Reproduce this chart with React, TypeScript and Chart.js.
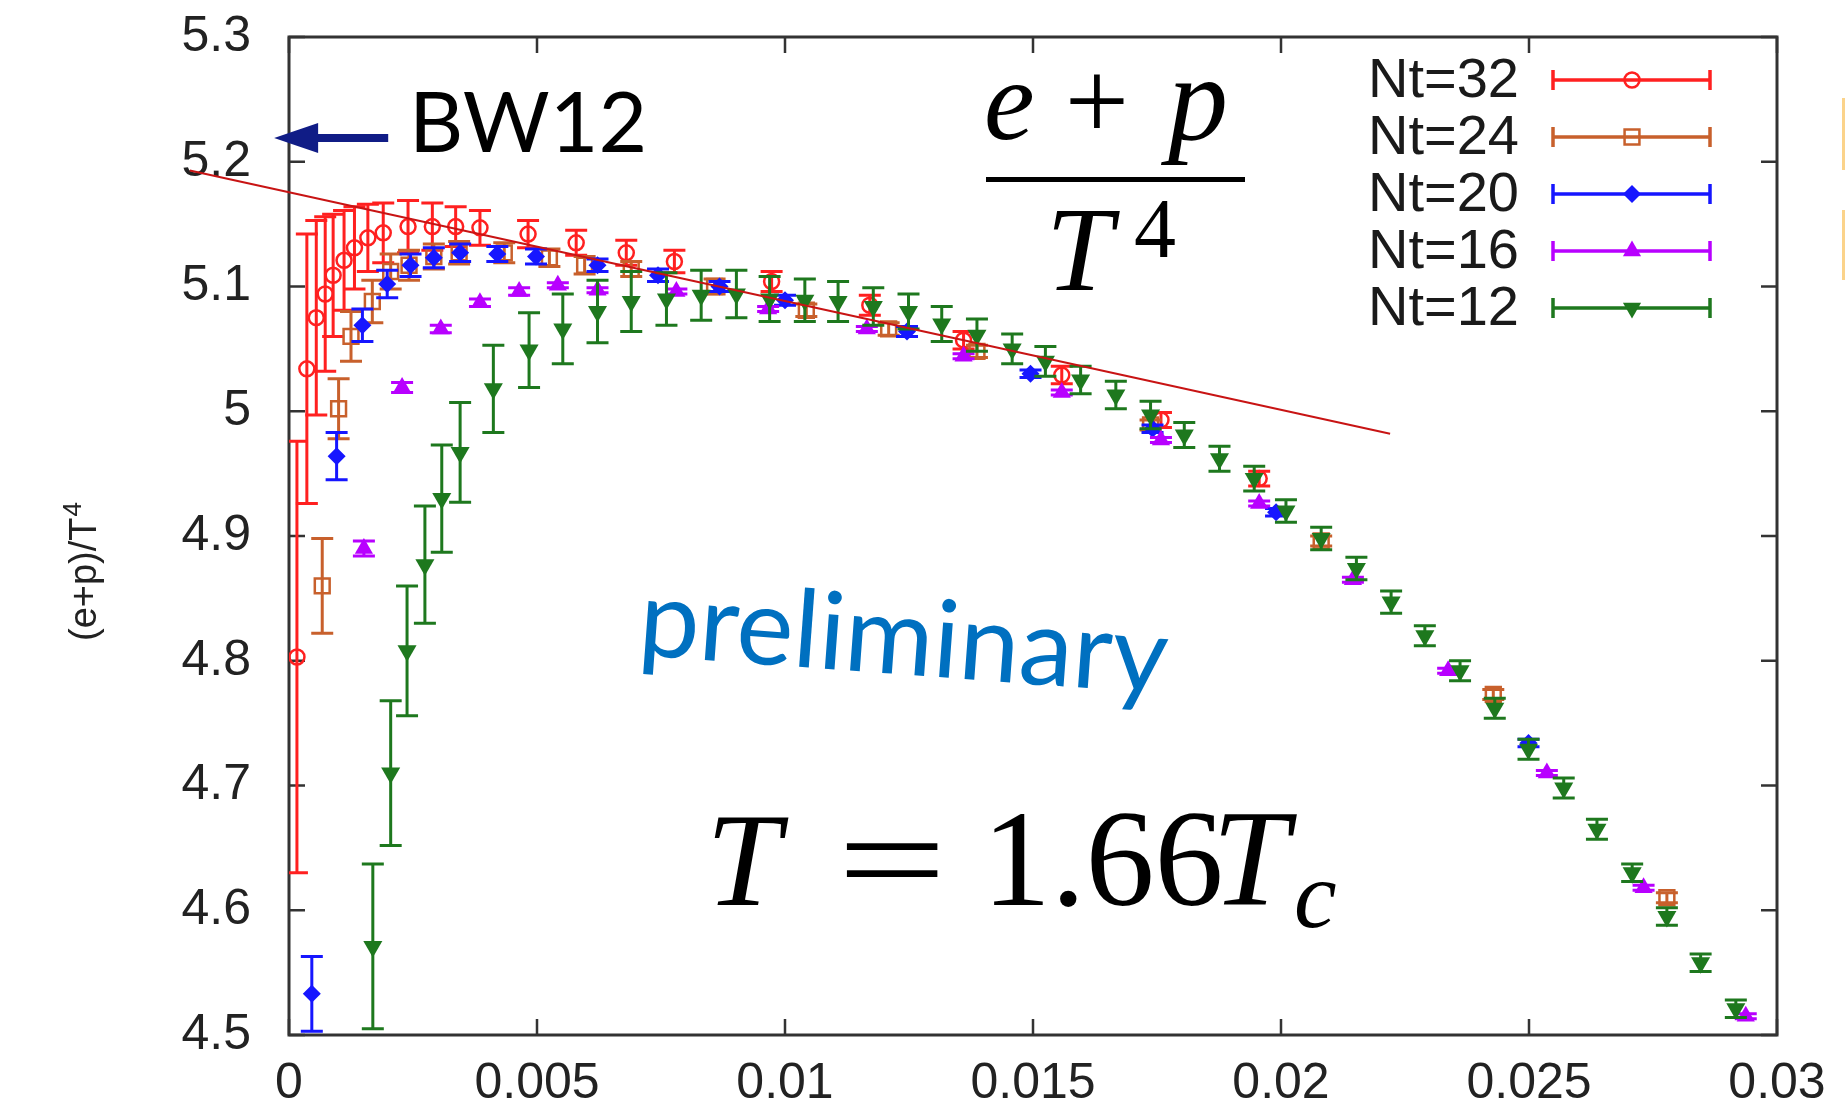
import { useEffect, useRef } from "react";
import { Chart, registerables } from "chart.js";

Chart.register(...registerables);

// Nt = 32
const NT32_X = [0.00016, 0.00036, 0.00055, 0.00073, 0.00089, 0.00111, 0.00132, 0.00159, 0.0019, 0.0024, 0.00289, 0.00336, 0.00385, 0.00482, 0.00579, 0.0068, 0.00777, 0.00973, 0.01171, 0.0136, 0.01558, 0.01758, 0.01956];
const NT32_Y = [4.803, 5.034, 5.075, 5.094, 5.109, 5.121, 5.131, 5.139, 5.143, 5.148, 5.148, 5.148, 5.147, 5.142, 5.135, 5.127, 5.12, 5.104, 5.085, 5.057, 5.029, 4.993, 4.946];
const NT32_ERR = [0.173, 0.108, 0.078, 0.062, 0.049, 0.04, 0.033, 0.027, 0.024, 0.021, 0.019, 0.016, 0.014, 0.011, 0.01, 0.01, 0.009, 0.008, 0.008, 0.007, 0.007, 0.006, 0.006];

// Nt = 24
const NT24_X = [0.00067, 0.001, 0.00125, 0.00168, 0.00205, 0.00242, 0.00292, 0.00343, 0.00434, 0.00525, 0.00596, 0.0069, 0.00858, 0.01043, 0.01209, 0.01387, 0.01737, 0.02081, 0.02428, 0.02778];
const NT24_Y = [4.86, 5.002, 5.06, 5.088, 5.112, 5.117, 5.124, 5.127, 5.127, 5.123, 5.117, 5.114, 5.1, 5.081, 5.066, 5.048, 4.989, 4.896, 4.773, 4.61];
const NT24_ERR = [0.038, 0.024, 0.02, 0.017, 0.014, 0.012, 0.01, 0.009, 0.008, 0.007, 0.007, 0.006, 0.006, 0.005, 0.005, 0.005, 0.004, 0.004, 0.004, 0.004];

// Nt = 20
const NT20_X = [0.00046, 0.00096, 0.00148, 0.00198, 0.00245, 0.00292, 0.00345, 0.0042, 0.00498, 0.00622, 0.00744, 0.00868, 0.01, 0.01246, 0.01495, 0.01741, 0.0199, 0.02499];
const NT20_Y = [4.533, 4.964, 5.069, 5.102, 5.117, 5.123, 5.127, 5.126, 5.124, 5.117, 5.109, 5.1, 5.089, 5.064, 5.03, 4.986, 4.919, 4.734];
const NT20_ERR = [0.03, 0.019, 0.013, 0.011, 0.009, 0.008, 0.007, 0.006, 0.006, 0.005, 0.005, 0.004, 0.004, 0.004, 0.003, 0.003, 0.003, 0.003];

// Nt = 16
const NT16_X = [0.00151, 0.00228, 0.00306, 0.00385, 0.00464, 0.00542, 0.00622, 0.00781, 0.00966, 0.01165, 0.0136, 0.01558, 0.01758, 0.01956, 0.02145, 0.02337, 0.02536, 0.02731, 0.02937];
const NT16_Y = [4.89, 5.019, 5.066, 5.087, 5.096, 5.101, 5.097, 5.096, 5.082, 5.066, 5.044, 5.015, 4.977, 4.926, 4.865, 4.792, 4.71, 4.618, 4.515];
const NT16_ERR = [0.006, 0.004, 0.003, 0.003, 0.003, 0.002, 0.002, 0.002, 0.002, 0.002, 0.002, 0.002, 0.002, 0.002, 0.002, 0.002, 0.002, 0.002, 0.002];

// Nt = 12
const NT12_X = [0.00169, 0.00205, 0.00238, 0.00274, 0.00308, 0.00345, 0.00412, 0.00484, 0.00552, 0.00622, 0.0069, 0.00761, 0.00831, 0.00902, 0.00969, 0.0104, 0.01107, 0.01178, 0.01249, 0.01316, 0.01387, 0.01458, 0.01525, 0.01596, 0.01667, 0.01737, 0.01805, 0.01876, 0.01946, 0.0201, 0.02081, 0.02152, 0.02222, 0.0229, 0.02361, 0.02431, 0.02499, 0.0257, 0.02637, 0.02708, 0.02778, 0.02846, 0.02917];
const NT12_Y = [4.571, 4.71, 4.808, 4.877, 4.93, 4.967, 5.018, 5.049, 5.066, 5.08, 5.088, 5.09, 5.093, 5.094, 5.09, 5.089, 5.088, 5.084, 5.08, 5.07, 5.061, 5.05, 5.04, 5.025, 5.013, 4.997, 4.981, 4.962, 4.946, 4.92, 4.898, 4.874, 4.847, 4.82, 4.792, 4.762, 4.729, 4.698, 4.665, 4.63, 4.595, 4.558, 4.521];
const NT12_ERR = [0.066, 0.058, 0.052, 0.047, 0.043, 0.04, 0.035, 0.03, 0.028, 0.025, 0.024, 0.021, 0.02, 0.019, 0.018, 0.017, 0.016, 0.015, 0.014, 0.014, 0.013, 0.012, 0.012, 0.011, 0.011, 0.011, 0.01, 0.01, 0.01, 0.009, 0.009, 0.009, 0.009, 0.008, 0.008, 0.008, 0.008, 0.008, 0.008, 0.007, 0.007, 0.007, 0.007];

const SERIES_LABELS = ["Nt=32", "Nt=24", "Nt=20", "Nt=16", "Nt=12"];

// straight-line extrapolation drawn across the upper part
const FIT_X = [-0.002, 0.0222];
const FIT_Y = [5.193, 4.982];

// BW12 reference value marked by the arrow
const BW12_VALUE = 5.219;
const BW12_ARROW_X = [-0.0003, 0.002];

const X_TICKS = [0, 0.005, 0.01, 0.015, 0.02, 0.025, 0.03];
const X_TICK_LABELS = ["0", "0.005", "0.01", "0.015", "0.02", "0.025", "0.03"];
const Y_TICKS = [4.5, 4.6, 4.7, 4.8, 4.9, 5.0, 5.1, 5.2, 5.3];
const Y_TICK_LABELS = ["4.5", "4.6", "4.7", "4.8", "4.9", "5", "5.1", "5.2", "5.3"];

const C32 = "#ff2020";
const C24 = "#c8602c";
const C20 = "#1616ff";
const C16 = "#b800ff";
const C12 = "#1e781e";

const toPts = (xs: number[], ys: number[]) => xs.map((x, i) => ({ x, y: ys[i] }));

type MarkerStyle = "circle" | "rect" | "rectRot" | "triangle" | "triangleDown";

function drawMarker(
  ctx: CanvasRenderingContext2D,
  style: MarkerStyle,
  x: number,
  y: number,
  r: number,
  color: string,
  filled: boolean
) {
  ctx.save();
  ctx.beginPath();
  if (style === "circle") {
    ctx.arc(x, y, r, 0, Math.PI * 2);
  } else if (style === "rect") {
    const s = r * Math.SQRT1_2;
    ctx.rect(x - s, y - s, 2 * s, 2 * s);
  } else if (style === "rectRot") {
    ctx.moveTo(x, y - r);
    ctx.lineTo(x + r, y);
    ctx.lineTo(x, y + r);
    ctx.lineTo(x - r, y);
    ctx.closePath();
  } else {
    const dir = style === "triangle" ? 1 : -1;
    for (let k = 0; k < 3; k++) {
      const a = (k * 2 * Math.PI) / 3;
      const px = x + Math.sin(a) * r;
      const py = y - dir * Math.cos(a) * r;
      if (k === 0) ctx.moveTo(px, py);
      else ctx.lineTo(px, py);
    }
    ctx.closePath();
  }
  if (filled) {
    ctx.fillStyle = color;
    ctx.fill();
  } else {
    ctx.strokeStyle = color;
    ctx.lineWidth = 2.5;
    ctx.stroke();
  }
  ctx.restore();
}

const LEGEND_MARKERS: { style: MarkerStyle; r: number; color: string; filled: boolean }[] = [
  { style: "circle", r: 7.5, color: C32, filled: false },
  { style: "rect", r: 10.5, color: C24, filled: false },
  { style: "rectRot", r: 9, color: C20, filled: true },
  { style: "triangle", r: 10.5, color: C16, filled: true },
  { style: "triangleDown", r: 10.5, color: C12, filled: true },
];

// vertical error bars, drawn right before each dataset's markers
const errorBarPlugin = {
  id: "errorBars",
  beforeDatasetDraw(chart: any, args: any) {
    const ds = chart.data.datasets[args.index];
    const errs: number[] | undefined = ds.errors;
    if (!errs) return;
    const ys = chart.scales.y;
    const area = chart.chartArea;
    const ctx: CanvasRenderingContext2D = chart.ctx;
    ctx.save();
    ctx.beginPath();
    ctx.rect(area.left, area.top, area.right - area.left, area.bottom - area.top);
    ctx.clip();
    ctx.strokeStyle = ds.borderColor;
    ctx.lineWidth = 3;
    const cap = 11;
    args.meta.data.forEach((pt: any, i: number) => {
      const v = ds.data[i].y;
      const e = errs[i];
      const top = ys.getPixelForValue(v + e);
      const bot = ys.getPixelForValue(v - e);
      ctx.beginPath();
      ctx.moveTo(pt.x, top);
      ctx.lineTo(pt.x, bot);
      ctx.moveTo(pt.x - cap, top);
      ctx.lineTo(pt.x + cap, top);
      ctx.moveTo(pt.x - cap, bot);
      ctx.lineTo(pt.x + cap, bot);
      ctx.stroke();
    });
    ctx.restore();
  },
};

// plot frame with inward ticks on all four sides
const framePlugin = {
  id: "frame",
  beforeDatasetsDraw(chart: any) {
    const ctx: CanvasRenderingContext2D = chart.ctx;
    const { left, right, top, bottom } = chart.chartArea;
    const xs = chart.scales.x;
    const ys = chart.scales.y;
    ctx.save();
    ctx.strokeStyle = "#333";
    ctx.lineWidth = 3;
    ctx.strokeRect(left, top, right - left, bottom - top);
    ctx.lineWidth = 2.5;
    const tl = 16;
    ctx.beginPath();
    X_TICKS.forEach((v) => {
      const px = xs.getPixelForValue(v);
      ctx.moveTo(px, bottom);
      ctx.lineTo(px, bottom - tl);
      ctx.moveTo(px, top);
      ctx.lineTo(px, top + tl);
    });
    Y_TICKS.forEach((v) => {
      const py = ys.getPixelForValue(v);
      ctx.moveTo(left, py);
      ctx.lineTo(left + tl, py);
      ctx.moveTo(right, py);
      ctx.lineTo(right - tl, py);
    });
    ctx.stroke();
    ctx.restore();
  },
};

// labels, formulas, arrow and key
const overlayPlugin = {
  id: "overlay",
  afterDatasetsDraw(chart: any) {
    const ctx: CanvasRenderingContext2D = chart.ctx;
    const xs = chart.scales.x;
    const ys = chart.scales.y;
    ctx.save();

    // y-axis title
    ctx.save();
    ctx.translate(96, 572);
    ctx.rotate(-Math.PI / 2);
    ctx.fillStyle = "#222";
    ctx.textBaseline = "alphabetic";
    ctx.textAlign = "left";
    ctx.font = "38px 'Liberation Sans', Arial, sans-serif";
    const main = "(e+p)/T";
    const wMain = ctx.measureText(main).width;
    ctx.font = "26px 'Liberation Sans', Arial, sans-serif";
    const wSup = ctx.measureText("4").width;
    const start = -(wMain + wSup) / 2;
    ctx.font = "38px 'Liberation Sans', Arial, sans-serif";
    ctx.fillText(main, start, 0);
    ctx.font = "26px 'Liberation Sans', Arial, sans-serif";
    ctx.fillText("4", start + wMain + 1, -15);
    ctx.restore();

    // BW12 arrow
    const ay = ys.getPixelForValue(BW12_VALUE);
    const tipX = xs.getPixelForValue(BW12_ARROW_X[0]);
    const tailX = xs.getPixelForValue(BW12_ARROW_X[1]);
    ctx.fillStyle = "#101c86";
    ctx.strokeStyle = "#101c86";
    ctx.lineWidth = 8;
    ctx.beginPath();
    ctx.moveTo(tailX, ay);
    ctx.lineTo(tipX + 38, ay);
    ctx.stroke();
    ctx.beginPath();
    ctx.moveTo(tipX, ay);
    ctx.lineTo(tipX + 44, ay - 15);
    ctx.lineTo(tipX + 44, ay + 15);
    ctx.closePath();
    ctx.fill();

    ctx.fillStyle = "#000";
    ctx.textAlign = "left";
    ctx.textBaseline = "alphabetic";
    ctx.font = "84px Lato, 'Open Sans', sans-serif";
    ctx.fillText("BW12", 409, 152);

    // (e+p)/T^4
    ctx.font = "italic 114px 'Liberation Serif', serif";
    ctx.fillText("e", 984, 139);
    ctx.font = "114px 'Liberation Serif', serif";
    ctx.textAlign = "center";
    ctx.fillText("+", 1097, 139);
    ctx.textAlign = "left";
    ctx.font = "italic 120px 'Liberation Serif', serif";
    ctx.fillText("p", 1168, 139);
    ctx.fillRect(986, 177, 259, 5);
    ctx.font = "italic 120px 'Liberation Serif', serif";
    ctx.fillText("T", 1046, 290);
    ctx.font = "84px 'Liberation Serif', serif";
    ctx.fillText("4", 1134, 257);

    // T = 1.66 T_c
    ctx.font = "italic 134px 'Liberation Serif', serif";
    ctx.fillText("T", 706, 905);
    ctx.save();
    ctx.translate(892, 905);
    ctx.scale(1.45, 1);
    ctx.font = "134px 'Liberation Serif', serif";
    ctx.textAlign = "center";
    ctx.fillText("=", 0, 0);
    ctx.restore();
    ctx.textAlign = "left";
    ctx.font = "138px 'Liberation Serif', serif";
    ctx.fillText("1.66", 982, 905);
    ctx.font = "italic 138px 'Liberation Serif', serif";
    ctx.fillText("T", 1212, 905);
    ctx.font = "italic 96px 'Liberation Serif', serif";
    ctx.fillText("c", 1294, 927);

    // preliminary
    ctx.save();
    ctx.translate(637, 655);
    ctx.rotate((4.2 * Math.PI) / 180);
    ctx.fillStyle = "#0070c0";
    ctx.font = "108px Lato, 'Open Sans', sans-serif";
    ctx.fillText("preliminary", 0, 0);
    ctx.restore();

    // key
    ctx.font = "56px 'Liberation Sans', Arial, sans-serif";
    ctx.textAlign = "right";
    ctx.textBaseline = "middle";
    SERIES_LABELS.forEach((lab, i) => {
      const y = 80 + i * 57;
      const m = LEGEND_MARKERS[i];
      ctx.fillStyle = "#1a1a1a";
      ctx.fillText(lab, 1519, y + 2);
      ctx.strokeStyle = m.color;
      ctx.lineWidth = 3.5;
      ctx.beginPath();
      ctx.moveTo(1553, y);
      ctx.lineTo(1710, y);
      ctx.moveTo(1553, y - 10);
      ctx.lineTo(1553, y + 10);
      ctx.moveTo(1710, y - 10);
      ctx.lineTo(1710, y + 10);
      ctx.stroke();
      drawMarker(ctx, m.style, 1632, y, m.r, m.color, m.filled);
    });

    // cut-off marks at the right edge
    ctx.fillStyle = "#fbd38a";
    ctx.fillRect(1842, 98, 3, 72);
    ctx.fillRect(1842, 210, 3, 70);

    ctx.restore();
  },
};

export default function App() {
  const canvasRef = useRef<HTMLCanvasElement | null>(null);

  useEffect(() => {
    const canvas = canvasRef.current;
    if (!canvas) return;

    const chart = new Chart(canvas, {
      type: "scatter",
      data: {
        datasets: [
          {
            label: SERIES_LABELS[0],
            data: toPts(NT32_X, NT32_Y),
            errors: NT32_ERR,
            borderColor: C32,
            pointStyle: "circle",
            pointRadius: 7.5,
            pointBorderWidth: 2.5,
            pointBorderColor: C32,
            pointBackgroundColor: "rgba(0,0,0,0)",
            showLine: false,
            order: 5,
          } as any,
          {
            label: SERIES_LABELS[1],
            data: toPts(NT24_X, NT24_Y),
            errors: NT24_ERR,
            borderColor: C24,
            pointStyle: "rect",
            pointRadius: 10.5,
            pointBorderWidth: 2.5,
            pointBorderColor: C24,
            pointBackgroundColor: "rgba(0,0,0,0)",
            showLine: false,
            order: 4,
          } as any,
          {
            label: SERIES_LABELS[2],
            data: toPts(NT20_X, NT20_Y),
            errors: NT20_ERR,
            borderColor: C20,
            pointStyle: "rectRot",
            pointRadius: 9,
            pointBorderWidth: 0,
            pointBackgroundColor: C20,
            showLine: false,
            order: 3,
          } as any,
          {
            label: SERIES_LABELS[3],
            data: toPts(NT16_X, NT16_Y),
            errors: NT16_ERR,
            borderColor: C16,
            pointStyle: "triangle",
            pointRadius: 10.5,
            pointBorderWidth: 0,
            pointBackgroundColor: C16,
            showLine: false,
            order: 2,
          } as any,
          {
            label: SERIES_LABELS[4],
            data: toPts(NT12_X, NT12_Y),
            errors: NT12_ERR,
            borderColor: C12,
            pointStyle: "triangle",
            pointRotation: 180,
            pointRadius: 11,
            pointBorderWidth: 0,
            pointBackgroundColor: C12,
            showLine: false,
            order: 1,
          } as any,
          {
            label: "fit",
            data: toPts(FIT_X, FIT_Y),
            borderColor: "#c81414",
            borderWidth: 2,
            pointRadius: 0,
            showLine: true,
            clip: false,
            order: 0,
          } as any,
        ],
      },
      options: {
        animation: false,
        responsive: true,
        maintainAspectRatio: false,
        devicePixelRatio: 1,
        events: [],
        layout: { padding: { top: 37, right: 71, left: 0, bottom: 0 } },
        plugins: {
          legend: { display: false },
          tooltip: { enabled: false },
          title: { display: false },
        },
        scales: {
          x: {
            type: "linear",
            min: 0,
            max: 0.03,
            afterBuildTicks: (scale: any) => {
              scale.ticks = X_TICKS.map((value) => ({ value }));
            },
            afterFit: (scale: any) => {
              scale.height = 82;
              scale.paddingLeft = 0;
              scale.paddingRight = 0;
            },
            grid: { display: false, drawTicks: false },
            border: { display: false },
            ticks: {
              padding: 19,
              color: "#222",
              font: { family: "'Liberation Sans', Arial, sans-serif", size: 50 },
              maxRotation: 0,
              autoSkip: false,
              callback: (_v: any, i: number) => X_TICK_LABELS[i],
            },
          },
          y: {
            type: "linear",
            min: 4.5,
            max: 5.3,
            afterBuildTicks: (scale: any) => {
              scale.ticks = Y_TICKS.map((value) => ({ value }));
            },
            afterFit: (scale: any) => {
              scale.width = 289;
              scale.paddingTop = 0;
              scale.paddingBottom = 0;
            },
            grid: { display: false, drawTicks: false },
            border: { display: false },
            ticks: {
              padding: 38,
              color: "#222",
              font: { family: "'Liberation Sans', Arial, sans-serif", size: 50 },
              autoSkip: false,
              callback: (_v: any, i: number) => Y_TICK_LABELS[i],
            },
          },
        },
      } as any,
      plugins: [framePlugin, errorBarPlugin, overlayPlugin],
    });

    return () => chart.destroy();
  }, []);

  return (
    <div
      style={{
        position: "fixed",
        left: 0,
        top: 0,
        width: 1848,
        height: 1117,
        background: "#fff",
      }}
    >
      <canvas ref={canvasRef} />
    </div>
  );
}
